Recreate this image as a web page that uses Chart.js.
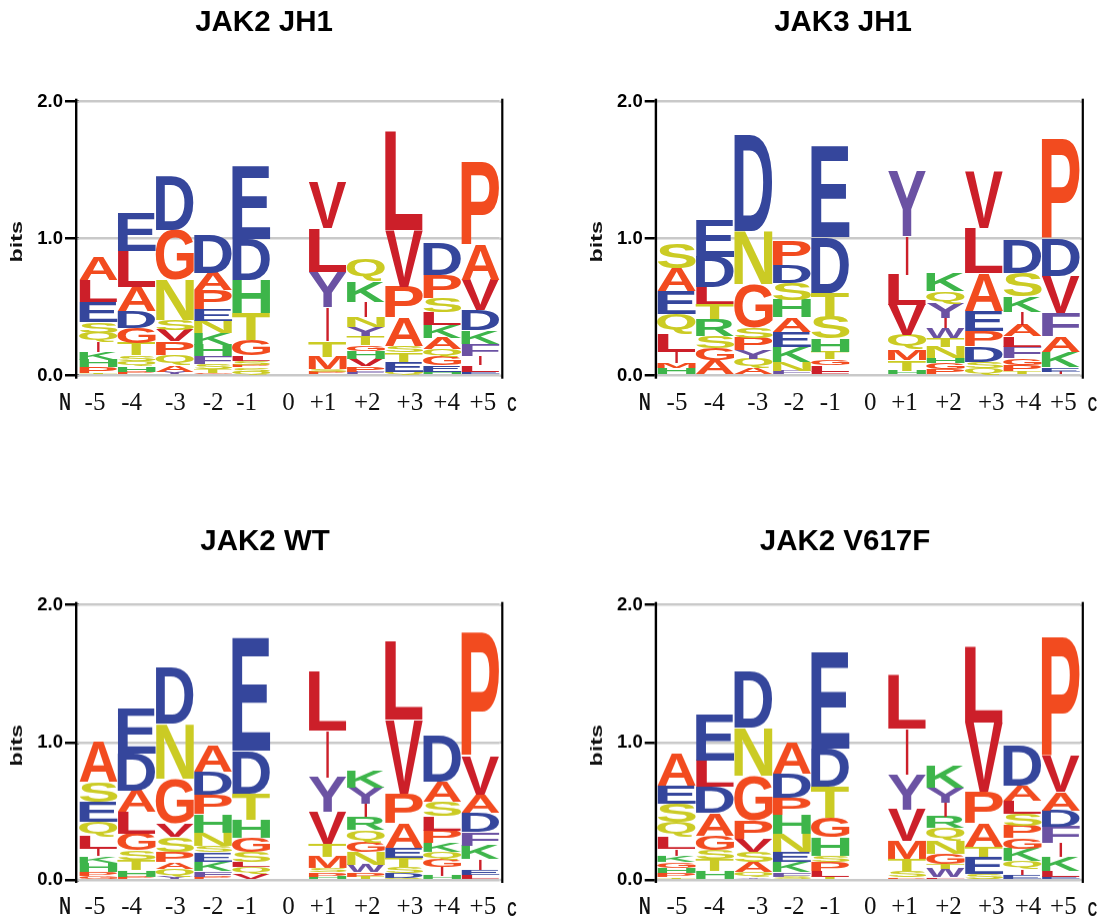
<!DOCTYPE html>
<html><head><meta charset="utf-8">
<script src="https://cdn.jsdelivr.net/npm/chart.js@4"></script>
<style>
html,body{margin:0;padding:0;background:#fff;width:1098px;height:916px;overflow:hidden}
.p{position:absolute}
canvas{filter:blur(0.45px)}
</style></head><body>
<div class="p" id="w0" style="left:0;top:0;width:528px;height:450px"><canvas id="c0"></canvas></div>
<div class="p" id="w1" style="left:580px;top:0;width:518px;height:450px"><canvas id="c1"></canvas></div>
<div class="p" id="w2" style="left:0;top:503.3px;width:530px;height:412.7px"><canvas id="c2"></canvas></div>
<div class="p" id="w3" style="left:580px;top:503.3px;width:518px;height:412.7px"><canvas id="c3"></canvas></div>
<script>
// ---- data: letters run bottom to top in each position, heights are in bits ----
const positions = ["-5","-4","-3","-2","-1","0","+1","+2","+3","+4","+5"];
const bitTicks = [0,1,2];

const jak2Jh1Title = "JAK2 JH1";
const jak2Jh1Letters = ["TPHKIQSELA","PHQSTGDALE","YAQPVSNGD","GTSFHKNEPAD","QSPSLGTHDE","","PSMTIYLV","FPVHGTYNIKQ","QETSAPVL","HEGQAKLSPD","ELIFKDVAP"];
const jak2Jh1Heights = [
 [.017,.044,.054,.06,.073,.066,.08,.146,.158,.17],
 [.03,.04,.04,.04,.09,.11,.12,.175,.268,.282],
 [.03,.05,.073,.097,.085,.073,.292,.365,.394],
 [.022,.025,.04,.058,.08,.085,.092,.083,.141,.127,.282],
 [.03,.03,.02,.03,.04,.11,.195,.243,.30,.535],
 [],
 [.027,.02,.092,.117,.248,.255,.316,.333],
 [.03,.04,.054,.058,.041,.066,.063,.073,.114,.153,.156],
 [.03,.073,.066,.049,.209,.224,.414,.72],
 [.03,.046,.063,.054,.08,.097,.092,.102,.17,.231],
 [.03,.049,.066,.088,.097,.151,.219,.255,.608]
];

const jak3Jh1Title = "JAK3 JH1";
const jak3Jh1Letters = ["HMILQEAS","AGSRTLDE","AQYPSGND","FNKEAHSDP","LLGTHSTDE","","AHTMQVLIY","PGHNTWIYQK","QSDPEALV","TPGFLAIKSD","IEKAFVDP"];
const jak3Jh1Heights = [
 [.054,.036,.085,.134,.141,.168,.165,.178],
 [.114,.085,.09,.122,.112,.122,.224,.268],
 [.054,.066,.063,.09,.08,.316,.389,.698],
 [.034,.068,.109,.109,.105,.127,.122,.129,.175],
 [.03,.049,.041,.056,.097,.158,.175,.404,.667],
 [],
 [.012,.024,.078,.078,.105,.219,.219,.285,.477],
 [.046,.044,.036,.085,.061,.073,.073,.109,.09,.129],
 [.054,.049,.109,.117,.146,.277,.324,.414],
 [.03,.047,.05,.085,.078,.08,.097,.109,.17,.243],
 [.03,.03,.114,.114,.17,.268,.268,.73]
];

const jak2WtTitle = "JAK2 WT";
const jak2WtLetters = ["GPHKILQESA","PHTSGLADE","YQAPSVGND","PFKESNHPDA","VQLSGHTDE","","HPSMTVYIL","TPWNGQRIYK","QDSTEAPVL","HIGQKPLSAD","LEIKFDAVP"];
const jak2WtHeights = [
 [.03,.03,.061,.051,.053,.09,.105,.146,.146,.292],
 [.024,.049,.073,.068,.122,.158,.158,.267,.328],
 [.024,.056,.049,.073,.109,.097,.328,.401,.408],
 [.024,.039,.07,.068,.044,.095,.136,.143,.17,.19],
 [.049,.044,.036,.073,.105,.131,.19,.311,.819],
 [],
 [.024,.032,.029,.085,.092,.231,.25,.345,.425],
 [.024,.032,.056,.09,.073,.09,.097,.092,.117,.126],
 [.015,.034,.044,.068,.073,.175,.219,.535,.566],
 [.032,.061,.053,.056,.068,.09,.102,.104,.146,.34],
 [.036,.036,.078,.1,.097,.139,.136,.279,.904]
];

const jak2V617fTitle = "JAK2 V617F";
const jak2V617fLetters = ["TPHGKILQSEA","HTSGADLE","YQASVPGND","SFKENHPDA","TLPSHGTDE","","PSTMVYIL","LWTGNQRIYK","SETAPVL","EIQKGPSLAD","ELKIFDAVP"];
const jak2V617fHeights = [
 [.019,.029,.039,.041,.049,.049,.085,.109,.134,.129,.236],
 [.068,.085,.066,.104,.163,.19,.194,.335],
 [.019,.036,.073,.073,.097,.134,.328,.348,.406],
 [.024,.032,.073,.073,.134,.139,.124,.175,.231],
 [.024,.044,.061,.049,.134,.141,.228,.275,.697],
 [],
 [.019,.049,.085,.129,.231,.253,.335,.394],
 [.019,.061,.036,.073,.097,.092,.083,.104,.109,.158],
 [.044,.122,.073,.17,.231,.503,.554],
 [.039,.041,.056,.09,.08,.09,.085,.092,.109,.284],
 [.024,.044,.102,.1,.119,.117,.134,.262,.872]
];

// ---- styles ----
const ORANGE="#F24B1F",BLUE="#35469C",RED="#CC1F29",YELLOW="#CBCB24",GREEN="#3DB54A",PURPLE="#6B52A3";
const letterColors={A:ORANGE,P:ORANGE,G:ORANGE,M:ORANGE,D:BLUE,E:BLUE,L:RED,V:RED,I:RED,
 N:YELLOW,Q:YELLOW,S:YELLOW,T:YELLOW,K:GREEN,R:GREEN,H:GREEN,Y:PURPLE,F:PURPLE,W:PURPLE};
const SANS='"Liberation Sans"',SERIF='"Liberation Serif"';
const nudgeLeft=[-3.4,-4.9,.6,.1,-4.5,-1,-4.6,1.4,5.9,4.4,2.5];
const nudgeRight=[.5,-.7,4.4,2.3,0,1.5,-2.6,3,7.3,5.7,2.6];
const metricsCache={};
function glyph(ctx,ch){
  if(metricsCache[ch])return metricsCache[ch];
  ctx.save();ctx.font='bold 100px '+SANS;ctx.textBaseline='alphabetic';ctx.textAlign='left';
  const m=ctx.measureText(ch);ctx.restore();
  return metricsCache[ch]={l:m.actualBoundingBoxLeft,r:m.actualBoundingBoxRight,a:m.actualBoundingBoxAscent,d:m.actualBoundingBoxDescent};
}
function squeezed(ctx,text,x,y,font,sx){
  ctx.save();ctx.translate(x,y);ctx.scale(sx,1);ctx.font=font;ctx.fillText(text,0,0);ctx.restore();
}
const logoPlugin={
  id:'logo',
  beforeDraw(chart){
    const nudge=chart.options.plugins.logo.nudge;
    chart.scales.x.getLabelItems(chart.chartArea).forEach((it,i)=>{
      if(!it.__n){it.options.translation[0]+=nudge[i];it.__n=1;}
    });
  },
  afterDatasetsDraw(chart){
    const ctx=chart.ctx,opts=chart.options.plugins.logo,letters=opts.letters,gap=opts.axisGap;
    const a=chart.chartArea,y=chart.scales.y;
    ctx.save();
    ctx.fillStyle='#c9c9c9';
    bitTicks.forEach(t=>{
      ctx.fillRect(a.right,y.getPixelForValue(t)-1.25,2.5,2.5);
      ctx.fillRect(a.left-gap,y.getPixelForValue(t)-1.25,gap,2.5);
    });
    ctx.restore();
    chart.data.datasets.forEach((ds,rank)=>{
      chart.getDatasetMeta(rank).data.forEach((bar,col)=>{
        const ch=letters[col][rank];
        if(!ch||ds.data[col]==null)return;
        const p=bar.getProps(['x','y','base','width'],true);
        const g=glyph(ctx,ch),gw=g.l+g.r,gh=g.a+g.d;
        const h=p.base-p.y,w=(ch==='I'?0.07:1.0)*p.width;
        ctx.save();
        ctx.translate(p.x-w/2,p.base);
        ctx.scale(w/gw,h/gh);
        ctx.font='bold 100px '+SANS;ctx.textBaseline='alphabetic';ctx.textAlign='left';
        ctx.fillStyle=letterColors[ch];
        ctx.fillText(ch,g.l,-g.d);
        ctx.restore();
      });
    });
    // axis frame, N / C end labels and the stretched "bits" label
    ctx.save();
    ctx.fillStyle='#000';
    ctx.fillRect(a.left-gap,a.top-3,2.4,a.bottom-a.top+6);
    ctx.fillRect(a.right+1.7,a.top-3,2.2,a.bottom-a.top+6);
    ctx.fillStyle='#111';ctx.textBaseline='middle';ctx.textAlign='center';
    squeezed(ctx,'N',a.left-gap-10,a.bottom+28,'bold 23px '+SANS,.7);
    squeezed(ctx,'C',a.right+12.5,a.bottom+30,'bold 21px '+SANS,.62);
    ctx.translate(a.left-gap-57.5,y.getPixelForValue(1)+3);
    ctx.rotate(-Math.PI/2);
    squeezed(ctx,'bits',0,0,'bold 16.5px '+SANS,1.42);
    ctx.restore();
  }
};
function makeLogo(id,title,letters,heights,o){
  const depth=Math.max(...heights.map(c=>c.length));
  const datasets=[];
  for(let r=0;r<depth;r++){
    datasets.push({label:'rank '+(r+1),data:heights.map(c=>c[r]===undefined?null:c[r]),
      backgroundColor:'rgba(0,0,0,0)',borderWidth:0,stack:'logo',barPercentage:1,categoryPercentage:1});
  }
  new Chart(document.getElementById(id),{
    type:'bar',
    data:{labels:positions,datasets},
    plugins:[logoPlugin],
    options:{
      responsive:true,maintainAspectRatio:false,animation:false,
      layout:{padding:{right:o.padRight,left:o.padLeft,top:0,bottom:0},autoPadding:false},
      events:[],
      plugins:{
        legend:{display:false},tooltip:{enabled:false},
        logo:{letters,nudge:o.nudge,axisGap:o.axisGap},
        title:{display:true,text:title,color:'#000',font:{family:SANS,weight:'bold',size:29.5,lineHeight:1.2},
          padding:{top:o.titleTop,bottom:101.7-o.titleTop-35.4}}
      },
      scales:{
        x:{stacked:true,offset:true,border:{display:false},grid:{display:false,drawTicks:false},
          ticks:{autoSkip:false,maxRotation:0,padding:12.5,color:'#111',font:{family:SERIF,size:25}},
          afterFit(s){s.height=o.xHeight;}},
        y:{stacked:true,min:0,max:2,border:{display:false},
          grid:{color:'#c9c9c9',lineWidth:2.5,tickColor:'#000',tickWidth:2.5,tickLength:o.axisGap+10},
          afterBuildTicks(s){s.ticks=bitTicks.map(v=>({value:v}));},
          ticks:{padding:2,color:'#000',font:{family:SANS,weight:'bold',size:18.5},callback:v=>v.toFixed(1)},
          afterFit(s){s.width=o.yWidth;}}
      }
    }
  });
}
makeLogo('c0',jak2Jh1Title,jak2Jh1Letters,jak2Jh1Heights,{padLeft:28.5,padRight:28.5,yWidth:50.8,xHeight:74.3,titleTop:4.9,axisGap:4.3,nudge:nudgeLeft});
makeLogo('c1',jak3Jh1Title,jak3Jh1Letters,jak3Jh1Heights,{padLeft:26,padRight:18,yWidth:51.3,xHeight:74.3,titleTop:4.9,axisGap:2.6,nudge:nudgeRight});
makeLogo('c2',jak2WtTitle,jak2WtLetters,jak2WtHeights,{padLeft:30.5,padRight:30.5,yWidth:48.8,xHeight:36.7,titleTop:21.4,axisGap:4.3,nudge:nudgeLeft});
makeLogo('c3',jak2V617fTitle,jak2V617fLetters,jak2V617fHeights,{padLeft:30,padRight:18,yWidth:47.3,xHeight:36.7,titleTop:21.4,axisGap:2.6,nudge:nudgeRight});
</script>
</body></html>
